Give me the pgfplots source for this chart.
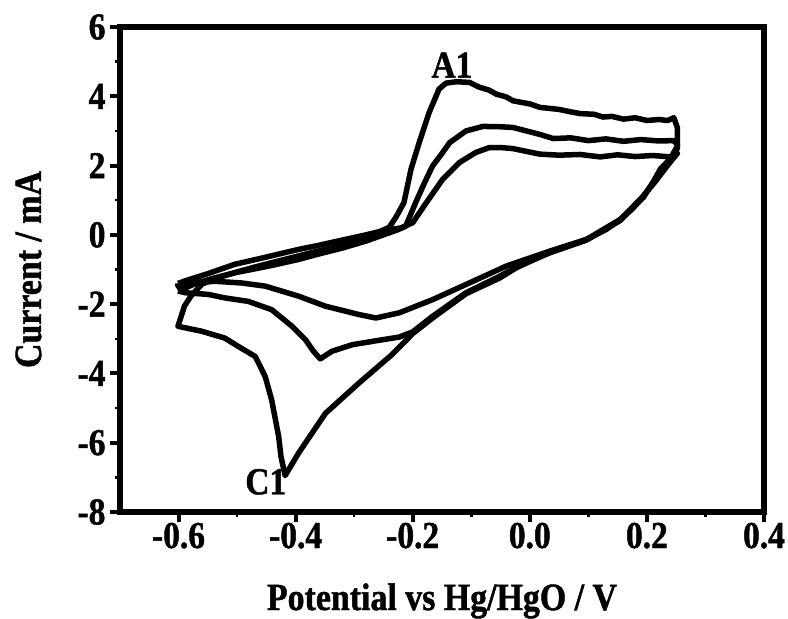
\documentclass[border=0pt]{standalone}
\usepackage{fontspec}
\setmainfont[FakeStretch=0.88, BoldFeatures={FakeBold=1.2}]{Liberation Serif}
\usepackage{pgfplots}
\pgfplotsset{compat=1.18}
\begin{document}
\begin{tikzpicture}
\useasboundingbox (-120pt,-107pt) rectangle (668pt,512pt);
\begin{axis}[
  at={(0pt,0pt)}, anchor=south west,
  width=644pt, height=485pt, scale only axis,
  xmin=-0.7, xmax=0.4, ymin=-8, ymax=6,
  axis line style={line width=5.5pt},
  xtick={-0.6,-0.4,-0.2,0,0.2,0.4},
  xticklabels={-0.6,-0.4,-0.2,0.0,0.2,0.4},
  ytick={-8,-6,-4,-2,0,2,4,6},
  yticklabels={-8,-6,-4,-2,0,2,4,6},
  minor xtick={-0.5,-0.3,-0.1,0.1,0.3},
  minor ytick={-7,-5,-3,-1,1,3,5},
  xtick pos=left, ytick pos=left,
  tick align=outside,
  major tick length=10pt, minor tick length=5pt,
  tick style={line width=4pt, black},
  minor tick style={line width=2.5pt},
  ticklabel style={font=\bfseries\fontsize{38}{40}\selectfont},
  xticklabel style={anchor=base, yshift=-26pt},
  yticklabel style={anchor=east, xshift=-1pt},
  xlabel={\bfseries Potential vs Hg/HgO / V},
  ylabel={\bfseries Current / mA},
  label style={font=\bfseries\fontsize{38.5}{40}\selectfont},
  xlabel style={at={(axis description cs:0.5,0)}, anchor=base, yshift=-98pt},
  ylabel style={at={(axis description cs:0,0.5)}, anchor=base, yshift=79pt},
  clip=false,
]
% cycle 1
\addplot[black, line width=5.5pt, line join=round] coordinates {
(-0.579,-1.77) (-0.56,-1.42) (-0.53,-1.22) (-0.50,-1.07) (-0.47,-0.93) (-0.44,-0.80)
(-0.40,-0.63) (-0.36,-0.46) (-0.32,-0.30) (-0.28,-0.12) (-0.258,0.08) (-0.24,0.22)
(-0.229,0.50) (-0.215,0.93) (-0.203,1.89) (-0.189,2.66) (-0.172,3.53) (-0.155,4.21)
(-0.143,4.38) (-0.125,4.42) (-0.103,4.40) (-0.086,4.26) (-0.07,4.18) (-0.057,4.06)
(-0.04,3.98) (-0.029,3.87) (0.0,3.78) (0.017,3.68) (0.05,3.62) (0.07,3.55) (0.086,3.50)
(0.11,3.48) (0.125,3.40) (0.14,3.42) (0.16,3.34) (0.18,3.38) (0.20,3.30) (0.22,3.33)
(0.235,3.30) (0.246,3.38) (0.252,3.10) (0.252,2.56) (0.240,2.20) (0.223,1.90) (0.21,1.50)
(0.194,1.11) (0.175,0.75) (0.155,0.45) (0.13,0.15) (0.097,-0.13) (0.06,-0.35) (0.034,-0.50)
(-0.023,-0.95) (-0.052,-1.25) (-0.109,-1.70) (-0.166,-2.40) (-0.20,-2.85) (-0.235,-3.45)
(-0.292,-4.28) (-0.349,-5.15) (-0.395,-6.30) (-0.418,-6.95) (-0.425,-6.40) (-0.429,-5.82)
(-0.441,-4.76) (-0.452,-4.09) (-0.469,-3.51) (-0.498,-3.22) (-0.521,-2.98) (-0.561,-2.78)
(-0.601,-2.64) (-0.590,-2.06) (-0.579,-1.77)
};
% cycle 2
\addplot[black, line width=5.5pt, line join=round] coordinates {
(-0.601,-1.62) (-0.57,-1.40) (-0.54,-1.25) (-0.50,-1.08) (-0.475,-1.00) (-0.44,-0.88)
(-0.395,-0.71) (-0.36,-0.55) (-0.32,-0.38) (-0.28,-0.18) (-0.25,0.00) (-0.225,0.15)
(-0.212,0.25) (-0.195,0.93) (-0.18,1.50) (-0.166,1.99) (-0.15,2.35) (-0.137,2.66)
(-0.109,3.00) (-0.080,3.13) (-0.05,3.12) (-0.029,3.10) (-0.006,3.00) (0.017,2.90)
(0.04,2.78) (0.07,2.80) (0.10,2.72) (0.13,2.77) (0.16,2.70) (0.19,2.75) (0.22,2.71)
(0.245,2.72) (0.252,2.62) (0.252,2.50) (0.240,2.15) (0.223,1.85) (0.194,1.08) (0.155,0.42)
(0.097,-0.15) (0.034,-0.52) (-0.023,-0.93) (-0.052,-1.20) (-0.109,-1.67) (-0.166,-2.35)
(-0.20,-2.80) (-0.223,-2.95) (-0.26,-3.05) (-0.303,-3.17) (-0.338,-3.36) (-0.358,-3.58)
(-0.37,-3.35) (-0.383,-3.03) (-0.406,-2.64) (-0.441,-2.16) (-0.481,-1.92) (-0.521,-1.82)
(-0.549,-1.72) (-0.589,-1.67) (-0.601,-1.62)
};
% cycle 3
\addplot[black, line width=5.5pt, line join=round] coordinates {
(-0.601,-1.40) (-0.58,-1.28) (-0.55,-1.12) (-0.504,-0.85) (-0.46,-0.68) (-0.42,-0.52)
(-0.395,-0.42) (-0.36,-0.30) (-0.32,-0.15) (-0.28,0.00) (-0.25,0.12) (-0.22,0.20)
(-0.20,0.35) (-0.18,0.85) (-0.149,1.60) (-0.120,2.09) (-0.092,2.38) (-0.069,2.52)
(-0.05,2.52) (-0.029,2.49) (0.017,2.33) (0.05,2.30) (0.086,2.32) (0.12,2.25) (0.15,2.31)
(0.18,2.26) (0.21,2.29) (0.24,2.25) (0.252,2.35) (0.235,2.00) (0.215,1.55) (0.19,1.05)
(0.155,0.45) (0.097,-0.13) (0.034,-0.47) (-0.040,-0.90) (-0.097,-1.34) (-0.166,-1.87)
(-0.223,-2.25) (-0.263,-2.40) (-0.292,-2.30) (-0.349,-2.06) (-0.395,-1.77) (-0.452,-1.48)
(-0.492,-1.39) (-0.538,-1.34) (-0.578,-1.39) (-0.601,-1.48) (-0.601,-1.40)
};
\node[font=\bfseries\fontsize{38}{40}\selectfont] at (axis cs:-0.133,4.90) {A1};
\node[font=\bfseries\fontsize{38}{40}\selectfont] at (axis cs:-0.451,-7.13) {C1};
\end{axis}
\end{tikzpicture}
\end{document}
